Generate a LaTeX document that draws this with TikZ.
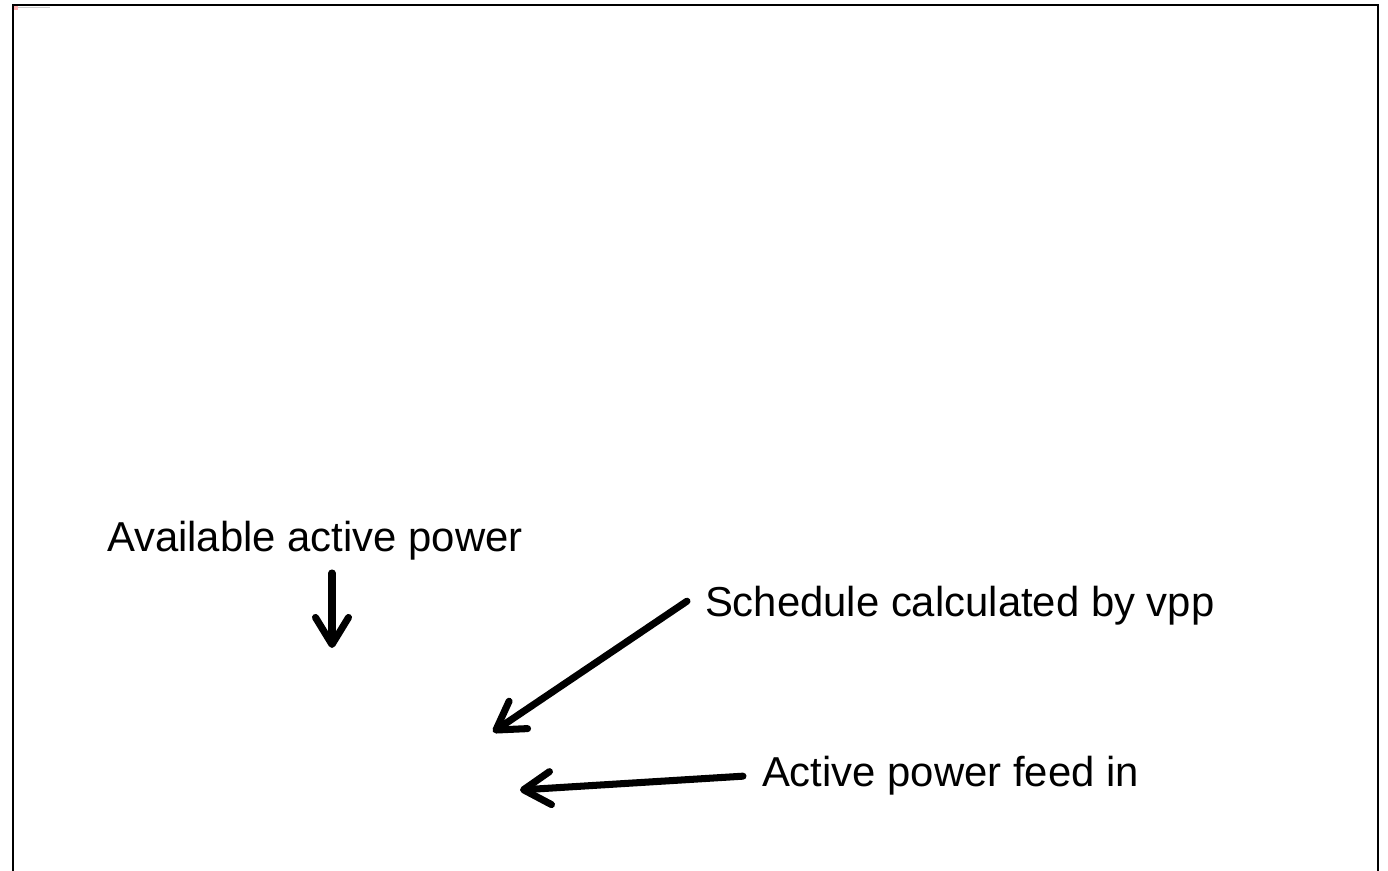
\documentclass[tikz,border=0pt]{standalone}
\usepackage{amsmath}
\usepackage{amssymb}
\usepackage{fontspec}
\setmainfont{Liberation Sans}
\usetikzlibrary{arrows.meta}

\tikzset{
  label text/.style = {inner sep=0pt, outer sep=0pt, anchor=base west, font=\fontsize{11.9pt}{14pt}\selectfont},
  pointer/.style = {line width=2pt, line cap=round, -{Straight Barb[length=0.27cm, width=0.33cm, round]}}
}

\begin{document}
\begin{tikzpicture}[x=0.01cm, y=-0.01cm]
	\useasboundingbox (0,0) rectangle (1388,871);
	\begin{scope} [fill opacity = 1]
%% outer frame, open at the bottom
    \draw[draw = black, line width=0.45pt] (13,880) -- (13,5) -- (1378,5) -- (1378,880);
%% small placeholder picture in the corner
    \fill[red!30] (14,6) rectangle (18,10);
    \draw[gray!40, line width=0.3pt] (18,7.5) -- (50,7.5);
%% labels
    \node[label text] (avail) at (107,552) {Available active power};
    \node[label text] (sched) at (705,617) {Schedule calculated by vpp};
    \node[label text] (feed) at (762,787) {Active power feed in};
%% arrow ends
    \coordinate (availtail) at (332,573);
    \coordinate (availtip) at (332,648);
    \coordinate (schedtip) at (493,732);
    \coordinate (feedtip) at (520,790);
    \draw[pointer] (availtail) -- (availtip);
    \draw[pointer] ([xshift=-0.18cm, yshift=0.05cm]sched.west) -- (schedtip);
    \draw[pointer] ([xshift=-0.19cm]feed.west) -- (feedtip);
    \end{scope}
\end{tikzpicture}
\end{document}
